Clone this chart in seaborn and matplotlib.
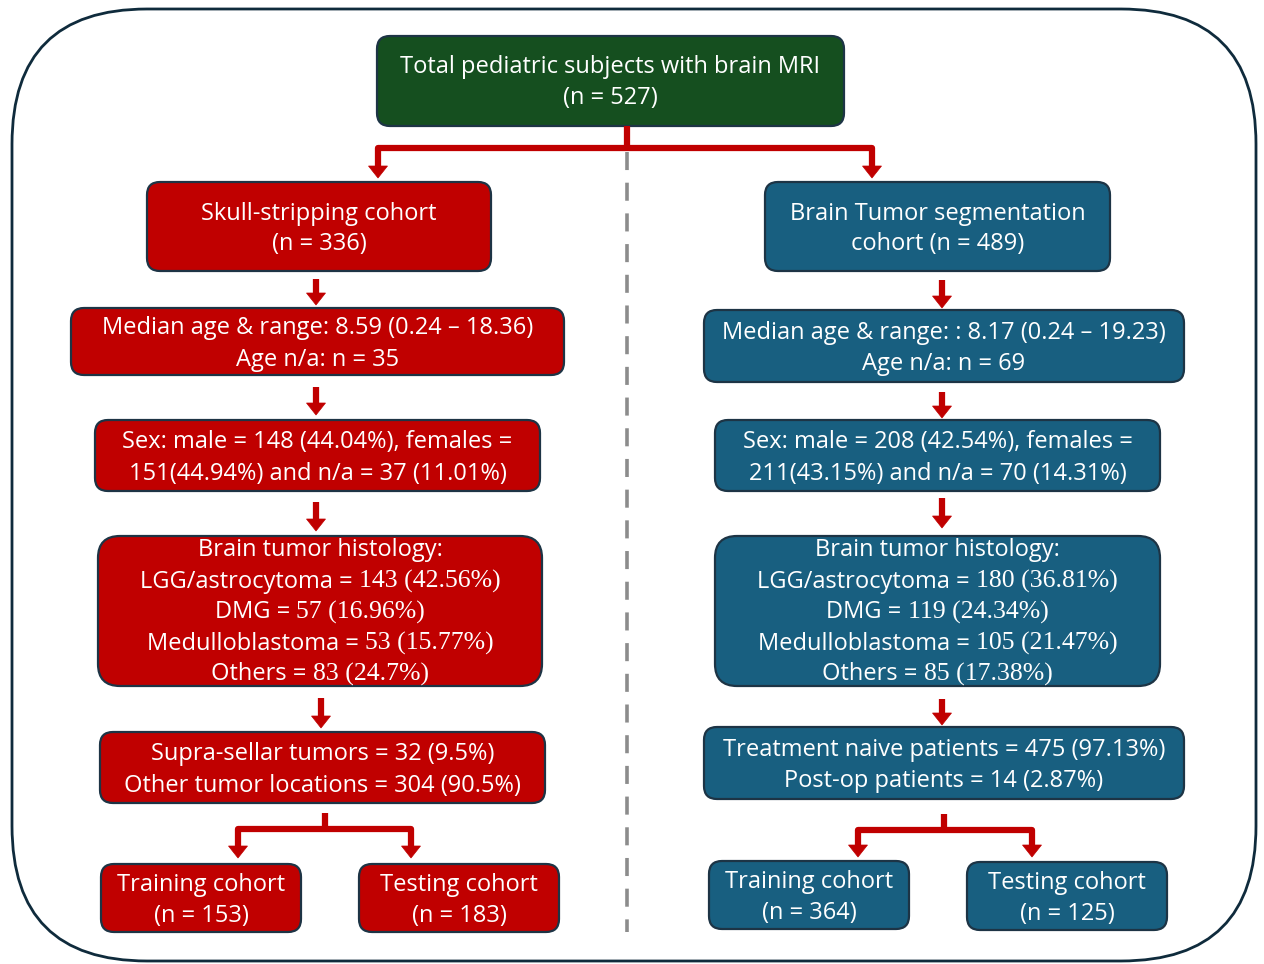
## Flowchart of pediatric brain MRI cohorts (skull-stripping vs tumor segmentation)
import matplotlib
matplotlib.use("Agg")
import matplotlib.pyplot as plt
import seaborn as sns
from matplotlib.patches import FancyBboxPatch, Polygon

sns.set_theme(style="white")
plt.rcParams['font.family'] = ['Open Sans', 'DejaVu Sans']

## Text content of each box
top_lines = ["Total pediatric subjects with brain MRI", "(n = 527)"]

left_cohort = ["Skull-stripping cohort", "(n = 336)"]
left_age = ["Median age & range: 8.59 (0.24 \u2013 18.36)", "Age n/a: n = 35"]
left_sex = ["Sex: male = 148 (44.04%), females =", "151(44.94%) and n/a = 37 (11.01%)"]
left_hist_labels = ["LGG/astrocytoma = ", "DMG = ", "Medulloblastoma = ", "Others = "]
left_hist_values = ["143 (42.56%)", "57 (16.96%)", "53 (15.77%)", "83 (24.7%)"]
left_loc = ["Supra-sellar tumors = 32 (9.5%)", "Other tumor locations = 304 (90.5%)"]
left_train = ["Training cohort", "(n = 153)"]
left_test = ["Testing cohort", "(n = 183)"]

right_cohort = ["Brain Tumor segmentation", "cohort (n = 489)"]
right_age = ["Median age & range: : 8.17 (0.24 \u2013 19.23)", "Age n/a: n = 69"]
right_sex = ["Sex: male = 208 (42.54%), females =", "211(43.15%) and n/a = 70 (14.31%)"]
right_hist_labels = ["LGG/astrocytoma = ", "DMG = ", "Medulloblastoma = ", "Others = "]
right_hist_values = ["180 (36.81%)", "119 (24.34%)", "105 (21.47%)", "85 (17.38%)"]
right_treat = ["Treatment naive patients = 475 (97.13%)", "Post-op patients = 14 (2.87%)"]
right_train = ["Training cohort", "(n = 364)"]
right_test = ["Testing cohort", "(n = 125)"]

hist_title = "Brain tumor histology:"

## Colours
RED = "#C00000"
BLUE = "#185F80"
GREEN = "#154F1F"
EDGE = "#1D3445"
SANS = ['Open Sans', 'DejaVu Sans']
SERIF = ['Liberation Serif', 'DejaVu Serif']
FS = 17
LINE_H = 31
DY = 2.5  # text sits slightly low in the boxes

fig = plt.figure(figsize=(12.64, 9.64), dpi=100)
ax = fig.add_axes([0, 0, 1, 1])
ax.set_xlim(0, 1264)
ax.set_ylim(964, 0)
ax.axis("off")
renderer = fig.canvas.get_renderer()

# outer rounded frame
ax.add_patch(FancyBboxPatch((12, 9), 1244, 952, boxstyle="round,pad=0,rounding_size=135",
                            fc="white", ec="#0F2B3C", lw=2, zorder=0))

# dashed divider
ax.plot([627, 627], [152, 932], color="#8C8C8C", lw=2.6, ls=(0, (5, 3.5)), zorder=1)


def box(x0, y0, x1, y1, color, lines, yc=None):
    ax.add_patch(FancyBboxPatch((x0, y0), x1 - x0, y1 - y0,
                                boxstyle="round,pad=0,rounding_size=13",
                                fc=color, ec=EDGE, lw=1.6, zorder=2))
    cx = (x0 + x1) / 2
    cy = (y0 + y1) / 2 if yc is None else yc
    n = len(lines)
    for i, s in enumerate(lines):
        y = cy + (i - (n - 1) / 2) * LINE_H + DY
        ax.text(cx, y, s, color="white", fontsize=FS, ha="center", va="center",
                family=SANS, zorder=3)


def hist_box(x0, y0, x1, y1, color, labels, values):
    ax.add_patch(FancyBboxPatch((x0, y0), x1 - x0, y1 - y0,
                                boxstyle="round,pad=0,rounding_size=22",
                                fc=color, ec=EDGE, lw=1.6, zorder=2))
    cx = (x0 + x1) / 2
    y = y0 + 12 + DY
    ax.text(cx, y, hist_title, color="white", fontsize=FS, ha="center", va="center",
            family=SANS, zorder=3)
    for lab, val in zip(labels, values):
        y += LINE_H
        t1 = ax.text(0, y, lab, color="white", fontsize=FS, ha="left", va="center",
                     family=SANS, zorder=3)
        t2 = ax.text(0, y, val, color="white", fontsize=FS + 1.5, ha="left", va="center",
                     family=SERIF, zorder=3)
        w1 = t1.get_window_extent(renderer).width
        w2 = t2.get_window_extent(renderer).width
        start = cx - (w1 + w2) / 2
        t1.set_x(start)
        t2.set_x(start + w1)


def head(x, tip, color=RED):
    ax.add_patch(Polygon([[x - 9.5, tip - 12], [x + 9.5, tip - 12], [x, tip]],
                         closed=True, fc=color, ec=color, lw=0.5, zorder=2))


def down(x, y0, tip):
    ax.plot([x, x], [y0, tip - 10], color=RED, lw=4.5, solid_capstyle="butt", zorder=2)
    head(x, tip)


def split(xs, y0, ybar, xl, xr, tip):
    ax.plot([xs, xs], [y0, ybar], color=RED, lw=4.5, solid_capstyle="butt", zorder=2)
    ax.plot([xl, xl, xr, xr], [tip - 10, ybar, ybar, tip - 10], color=RED, lw=4.5,
            solid_joinstyle="round", solid_capstyle="butt", zorder=2)
    head(xl, tip)
    head(xr, tip)


# top
box(377, 36, 844, 126, GREEN, top_lines, yc=80)
split(627, 126, 148, 378, 872, 178)

# left column
box(147, 182, 491, 271, RED, left_cohort)
down(316, 279, 305)
box(71, 308, 564, 375, RED, left_age)
down(316, 387, 415)
box(95, 420, 540, 491, RED, left_sex)
down(316, 502, 531)
hist_box(98, 536, 542, 686, RED, left_hist_labels, left_hist_values)
down(321, 698, 728)
box(100, 732, 545, 803, RED, left_loc)
split(325, 813, 829, 238, 411, 858)
box(101, 864, 301, 932, RED, left_train)
box(359, 864, 559, 932, RED, left_test)

# right column
box(765, 182, 1110, 271, BLUE, right_cohort)
down(942, 280, 308)
box(704, 310, 1184, 382, BLUE, right_age)
down(942, 392, 418)
box(715, 420, 1160, 491, BLUE, right_sex)
down(942, 498, 528)
hist_box(715, 536, 1160, 686, BLUE, right_hist_labels, right_hist_values)
down(942, 699, 725)
box(704, 727, 1184, 799, BLUE, right_treat)
split(944, 814, 830, 858, 1032, 857)
box(709, 861, 909, 929, BLUE, right_train)
box(967, 862, 1167, 930, BLUE, right_test)

plt.savefig("out.png", dpi=100, facecolor="white")
